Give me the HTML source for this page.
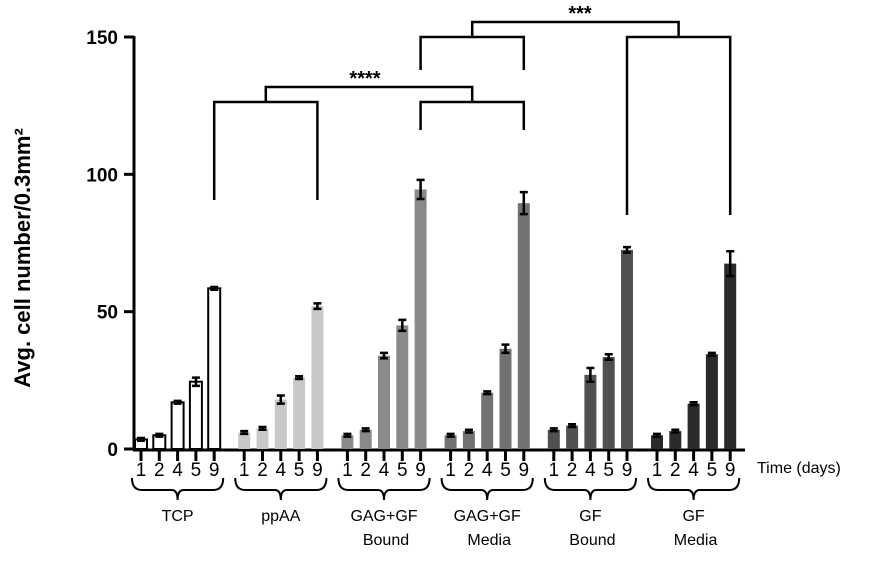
<!DOCTYPE html>
<html><head><meta charset="utf-8"><style>
html,body{margin:0;padding:0;background:#fff;width:882px;height:583px;overflow:hidden}
svg{display:block;font-family:"Liberation Sans",Arial,sans-serif}
</style></head><body>
<svg id="chart" width="882" height="583" viewBox="0 0 882 583">
<g id="axes"></g>
<g id="bars"></g>
<g id="sig"></g>
<text x="30" y="258" transform="rotate(-90 30 258)" text-anchor="middle" font-size="22" font-weight="bold">Avg. cell number/0.3mm²</text>
<text x="757" y="473" font-size="16">Time  (days)</text>
</svg>
<script>
const groups = ["TCP","ppAA","GAG+GF|Bound","GAG+GF|Media","GF|Bound","GF|Media"];
const days = ["1","2","4","5","9"];
const values = [
 [3.5,5,17,24.5,58.5],
 [6,7.5,18,26,52],
 [5,7,34,45,94.5],
 [5,6.5,20.5,36.5,89.5],
 [7,8.5,27,33.5,72.5],
 [5,6.5,16.5,34.5,67.5]
];
const errors = [
 [0.5,0.5,0.5,1.5,0.5],
 [0.5,0.5,1.5,0.5,1],
 [0.5,0.5,1,2,3.5],
 [0.5,0.5,0.5,1.5,4],
 [0.5,0.5,2.5,1,1],
 [0.5,0.5,0.5,0.5,4.5]
];
const yTicks = [0,50,100,150];
const fills = ["#ffffff","#c8c8c8","#8a8a8a","#727272","#505050","#2a2a2a"];
const NS="http://www.w3.org/2000/svg";
const y0=449, yTop=37, yMax=150;
const y = v => y0 - v*(y0-yTop)/yMax;
const x = (g,i) => 141 + g*103.2 + i*18.3;
function mk(tag, attrs, parent){const e=document.createElementNS(NS,tag);for(const k in attrs)e.setAttribute(k,attrs[k]);parent.appendChild(e);return e;}
const axes=document.getElementById('axes'), bars=document.getElementById('bars'), sig=document.getElementById('sig');
let ya=mk('line',{x1:134,y1:y(150)-1,x2:134,y2:y0+1,stroke:'#000','stroke-width':3},axes);


yTicks.forEach(t=>{
 let l=mk('line',{x1:124,x2:134,y1:y(t),y2:y(t),stroke:'#000','stroke-width':3},axes);
 
 
 let tx=mk('text',{x:118,y:y(t)+7,'text-anchor':'end','font-size':19,'font-weight':'bold'},axes);
 tx.textContent=t;
 
 
});
let xa=mk('line',{x1:133,y1:y0+1,x2:745,y2:y0+1,stroke:'#000','stroke-width':3},axes);


groups.forEach((g,gi)=>{
 values[gi].forEach((v,i)=>{
  const cx=x(gi,i);
  let r=mk('rect',{x:cx-6,y:y(v),width:12,height:y0-y(v),fill:fills[gi],stroke:gi==0?'#000':'none','stroke-width':2},bars);
  
  
  const e=errors[gi][i];
  let eb=mk('path',{d:`M${cx},${y(v+e)}V${y(v-e)}M${cx-4},${y(v+e)}H${cx+4}M${cx-4},${y(v-e)}H${cx+4}`,stroke:'#000','stroke-width':2.5,fill:'none'},bars);
  
  
  let tk=mk('line',{x1:cx,x2:cx,y1:y0,y2:y0+12,stroke:'#000','stroke-width':3},axes);
  
  
  let dl=mk('text',{x:cx,y:y0+27,'text-anchor':'middle','font-size':19},axes);
  dl.textContent=days[i];
  
  
 });
 const a=x(gi,0)-9,b=x(gi,4)+9,m=(a+b)/2;
 let br=mk('path',{d:`M${a},${478}Q${a},${490} ${a+10},${490}H${m-6}Q${m},${490} ${m},${500}Q${m},${490} ${m+6},${490}H${b-10}Q${b},${490} ${b},${478}`,stroke:'#000','stroke-width':2,fill:'none'},axes);
 
 
 const parts=g.split('|');
 parts.forEach((p,pi)=>{
  let t=mk('text',{x:m+(pi?2:0),y:521+pi*24,'text-anchor':'middle','font-size':16},axes);
  t.textContent=p;
  
  
 });
});
function bracket(g1,g2,topY,drop1,drop2,label,lx){
 const a1=x(g1[0],4),b1=x(g1[1],4),a2=x(g2[0],4),b2=x(g2[1],4);
 const c1=(a1+b1)/2,c2=(a2+b2)/2;
 let p=mk('path',{d:`M${a1},${drop1}V${topY+15}H${b1}V${drop1}M${a2},${drop2}V${topY+15}H${b2}V${drop2}M${c1},${topY+15}V${topY}H${c2}V${topY+15}`,stroke:'#000','stroke-width':2.5,fill:'none'},sig);
 
 
 let t=mk('text',{x:lx,y:topY-2,'text-anchor':'middle','font-size':20,'font-weight':'bold'},sig);
 t.textContent=label;
 
 
}
bracket([0,1],[2,3],87,200,130,'****',365);
bracket([2,3],[4,5],22,70,215,'***',580);
</script>
</body></html>
